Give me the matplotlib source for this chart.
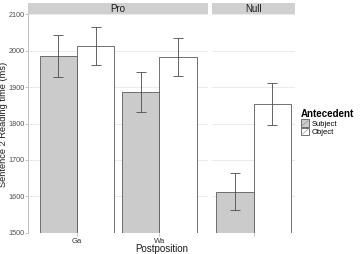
import matplotlib
matplotlib.use("Agg")
import matplotlib.pyplot as plt
from matplotlib.patches import Rectangle, Patch
from matplotlib.lines import Line2D

plt.rcParams['font.family'] = ['Liberation Sans', 'DejaVu Sans']

# ---- data ----
facets = ["Pro", "Null"]
positions = {"Pro": ["Ga", "Wa"], "Null": [""]}
antecedents = ["Subject", "Object"]
subject_mean = {"Pro": [1985, 1887], "Null": [1613]}
subject_err = {"Pro": [58, 55], "Null": [50]}
object_mean = {"Pro": [2012, 1982], "Null": [1854]}
object_err = {"Pro": [52, 52], "Null": [58]}
yticks = [1500, 1600, 1700, 1800, 1900, 2000, 2100]

W, H = 362, 254
fig = plt.figure(figsize=(W / 100, H / 100), dpi=100)

def fx(px):
    return px / W

def fy(py):
    return 1 - py / H

panel_top, panel_bot = 14.3, 232.7
panels_px = {"Pro": (28, 208, (0.406, 2.588)), "Null": (212, 295, (0.497, 1.503))}
fills = {"Subject": "#cbcbcb", "Object": "#ffffff"}
edge = "#5a5a5a"
bw = 0.45

for name in facets:
    x0, x1, xl = panels_px[name]
    ax = fig.add_axes([fx(x0), fy(panel_bot), fx(x1) - fx(x0), fy(panel_top) - fy(panel_bot)])
    ax.set_xlim(*xl)
    ax.set_ylim(1500, 2100)
    cats = positions[name]
    xs = list(range(1, len(cats) + 1))
    ax.set_yticks(yticks)
    ax.yaxis.grid(True, color="#e6e6e6", lw=0.6)
    ax.set_axisbelow(True)
    xs_s = [x - bw / 2 for x in xs]
    xs_o = [x + bw / 2 for x in xs]
    ax.bar(xs_s, subject_mean[name], width=bw, color=fills["Subject"], edgecolor=edge, lw=0.6, zorder=2)
    ax.bar(xs_o, object_mean[name], width=bw, color=fills["Object"], edgecolor=edge, lw=0.6, zorder=2)
    ax.errorbar(xs_s, subject_mean[name], yerr=subject_err[name], fmt='none', ecolor="#4a4a4a",
                elinewidth=0.6, capsize=3.8, capthick=0.6, zorder=3)
    ax.errorbar(xs_o, object_mean[name], yerr=object_err[name], fmt='none', ecolor="#4a4a4a",
                elinewidth=0.6, capsize=3.8, capthick=0.6, zorder=3)
    ax.set_xticks(xs)
    ax.set_xticklabels(cats, fontsize=5.5, color="#333333")
    for s in ["top", "right", "bottom"]:
        ax.spines[s].set_visible(False)
    ax.tick_params(axis='x', length=2, width=0.5, color="#b0b0b0", pad=1.5)
    if name == "Pro":
        ax.spines["left"].set_color("#b8b8b8")
        ax.spines["left"].set_linewidth(0.6)
        ax.set_yticklabels([str(v) for v in yticks], fontsize=5.2, color="#4d4d4d")
        ax.tick_params(axis='y', length=2.0, width=0.5, color="#b0b0b0", pad=0.5)
    else:
        ax.spines["left"].set_visible(False)
        ax.tick_params(axis='y', length=0, labelleft=False)
    # strip
    sax = fig.add_axes([fx(x0), fy(14), fx(x1) - fx(x0), fy(2.7) - fy(14)])
    sax.set_facecolor("#d0d0d0")
    for s in sax.spines.values():
        s.set_visible(False)
    sax.set_xticks([]); sax.set_yticks([])
    sax.text(0.5, 0.45, name, ha='center', va='center', fontsize=7, color="#1a1a1a",
             transform=sax.transAxes)

fig.text(fx(4.0), fy(124), "Sentence 2 Reading time (ms)", rotation=90, ha='center', va='center',
         fontsize=6.7, color="#1a1a1a")
fig.text(fx(161.5), fy(248.5), "Postposition", ha='center', va='center', fontsize=7, color="#1a1a1a")

class SlashHandler:
    def legend_artist(self, legend, orig_handle, fontsize, handlebox):
        x0, y0 = -handlebox.xdescent, -handlebox.ydescent
        w, h = handlebox.width, handlebox.height
        t = handlebox.get_transform()
        r = Rectangle((x0, y0), w, h, facecolor=orig_handle.get_facecolor(), edgecolor="#5a5a5a",
                      lw=0.6, transform=t)
        ln = Line2D([x0 + 1, x0 + w - 1], [y0 + 1, y0 + h - 1], color="#9a9a9a", lw=0.5, transform=t)
        handlebox.add_artist(r)
        handlebox.add_artist(ln)
        return r

handles = [Patch(facecolor=fills[a], edgecolor=edge, label=a) for a in antecedents]
leg = fig.legend(handles=handles, labels=antecedents, loc='upper left',
                 bbox_to_anchor=(fx(301), fy(109)), frameon=False, fontsize=5.5,
                 title="Antecedent", title_fontproperties={'size': 7, 'weight': 'bold'},
                 handler_map={Patch: SlashHandler()}, handlelength=1.1, handleheight=1.1,
                 labelspacing=0.05, handletextpad=0.25, borderpad=0, borderaxespad=0,
                 alignment='left')
fig.savefig("out.png", dpi=100)
